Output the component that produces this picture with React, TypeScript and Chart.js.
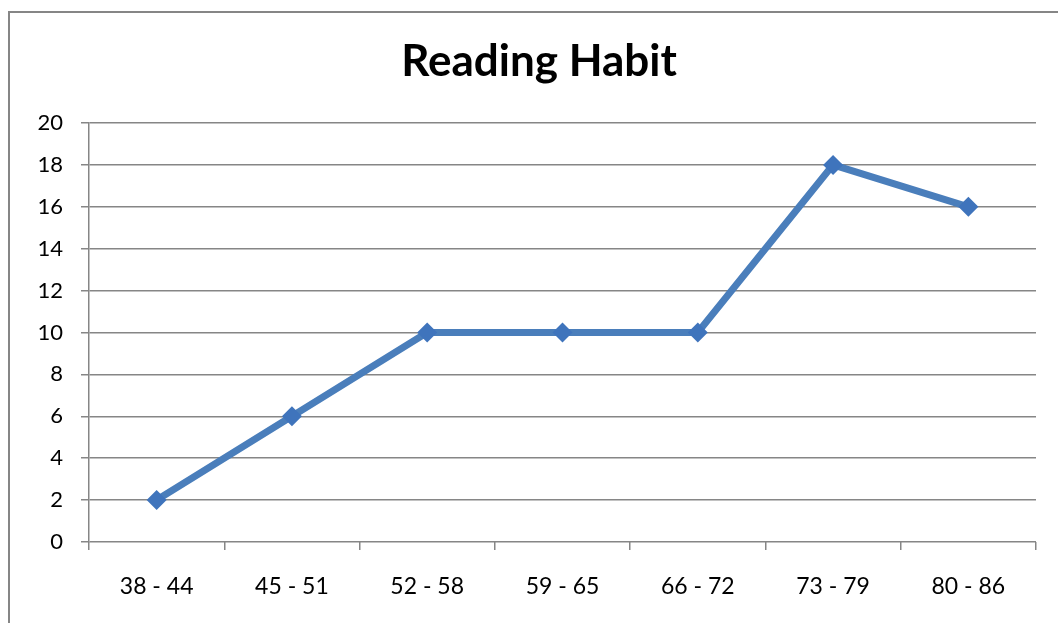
import React, { useEffect, useRef } from "react";
import { Chart, registerables } from "chart.js";

Chart.register(...registerables);

const categories = ["38 - 44", "45 - 51", "52 - 58", "59 - 65", "66 - 72", "73 - 79", "80 - 86"];
const values = [2, 6, 10, 10, 10, 18, 16];
const yTicks = [0, 2, 4, 6, 8, 10, 12, 14, 16, 18, 20];
const titleText = "Reading Habit";

const FONT = "Lato, 'Open Sans', sans-serif";

const titlePlugin = {
  id: "customTitle",
  afterDraw(chart: any) {
    const ctx = chart.ctx;
    ctx.save();
    ctx.font = `bold 44px ${FONT}`;
    ctx.fillStyle = "#000";
    ctx.textAlign = "center";
    ctx.textBaseline = "alphabetic";
    ctx.fillText(titleText, 539, 76);
    ctx.restore();
  },
};

export default function App() {
  const ref = useRef<HTMLCanvasElement | null>(null);

  useEffect(() => {
    if (!ref.current) return;
    const chart = new Chart(ref.current, {
      type: "line",
      data: {
        labels: categories,
        datasets: [
          {
            data: values,
            borderColor: "#4A7EBB",
            backgroundColor: "#3F74BC",
            borderWidth: 7,
            pointStyle: "rectRot",
            pointRadius: 10,
            pointBorderWidth: 0,
            pointBackgroundColor: "#3F74BC",
            tension: 0,
          },
        ],
      },
      plugins: [titlePlugin],
      options: {
        animation: false,
        responsive: false,
        layout: { padding: { left: 0, right: 22, top: 123, bottom: 0 } },
        plugins: {
          legend: { display: false },
          tooltip: { enabled: false },
          title: { display: false },
        },
        scales: {
          x: {
            offset: true,
            grid: {
              offset: true,
              drawOnChartArea: false,
              drawTicks: true,
              tickLength: 8,
              color: "#868686",
              lineWidth: 1.5,
            },
            border: { display: false },
            ticks: {
              color: "#000",
              font: { family: FONT, size: 23 },
              padding: 23,
              maxRotation: 0,
            },
            afterFit: (s: any) => {
              s.height = 81;
            },
          },
          y: {
            min: 0,
            max: 20,
            afterBuildTicks: (s: any) => {
              s.ticks = yTicks.map((v) => ({ value: v }));
            },
            grid: {
              color: "#868686",
              lineWidth: 1.5,
              drawTicks: true,
              tickLength: 8,
            },
            border: { display: true, color: "#868686", width: 1.5 },
            ticks: {
              color: "#000",
              font: { family: FONT, size: 22 },
              padding: 18,
            },
            afterFit: (s: any) => {
              s.width = 89;
            },
          },
        },
      },
    });
    return () => chart.destroy();
  }, []);

  return (
    <div style={{ position: "fixed", left: 0, top: 0, width: 1058, height: 623, overflow: "hidden", background: "#fff" }}>
      <div
        style={{
          position: "absolute",
          left: 8,
          top: 11,
          width: 1100,
          height: 700,
          border: "2px solid #868686",
        }}
      />
      <canvas ref={ref} width={1058} height={623} style={{ position: "absolute", left: 0, top: 0 }} />
    </div>
  );
}
